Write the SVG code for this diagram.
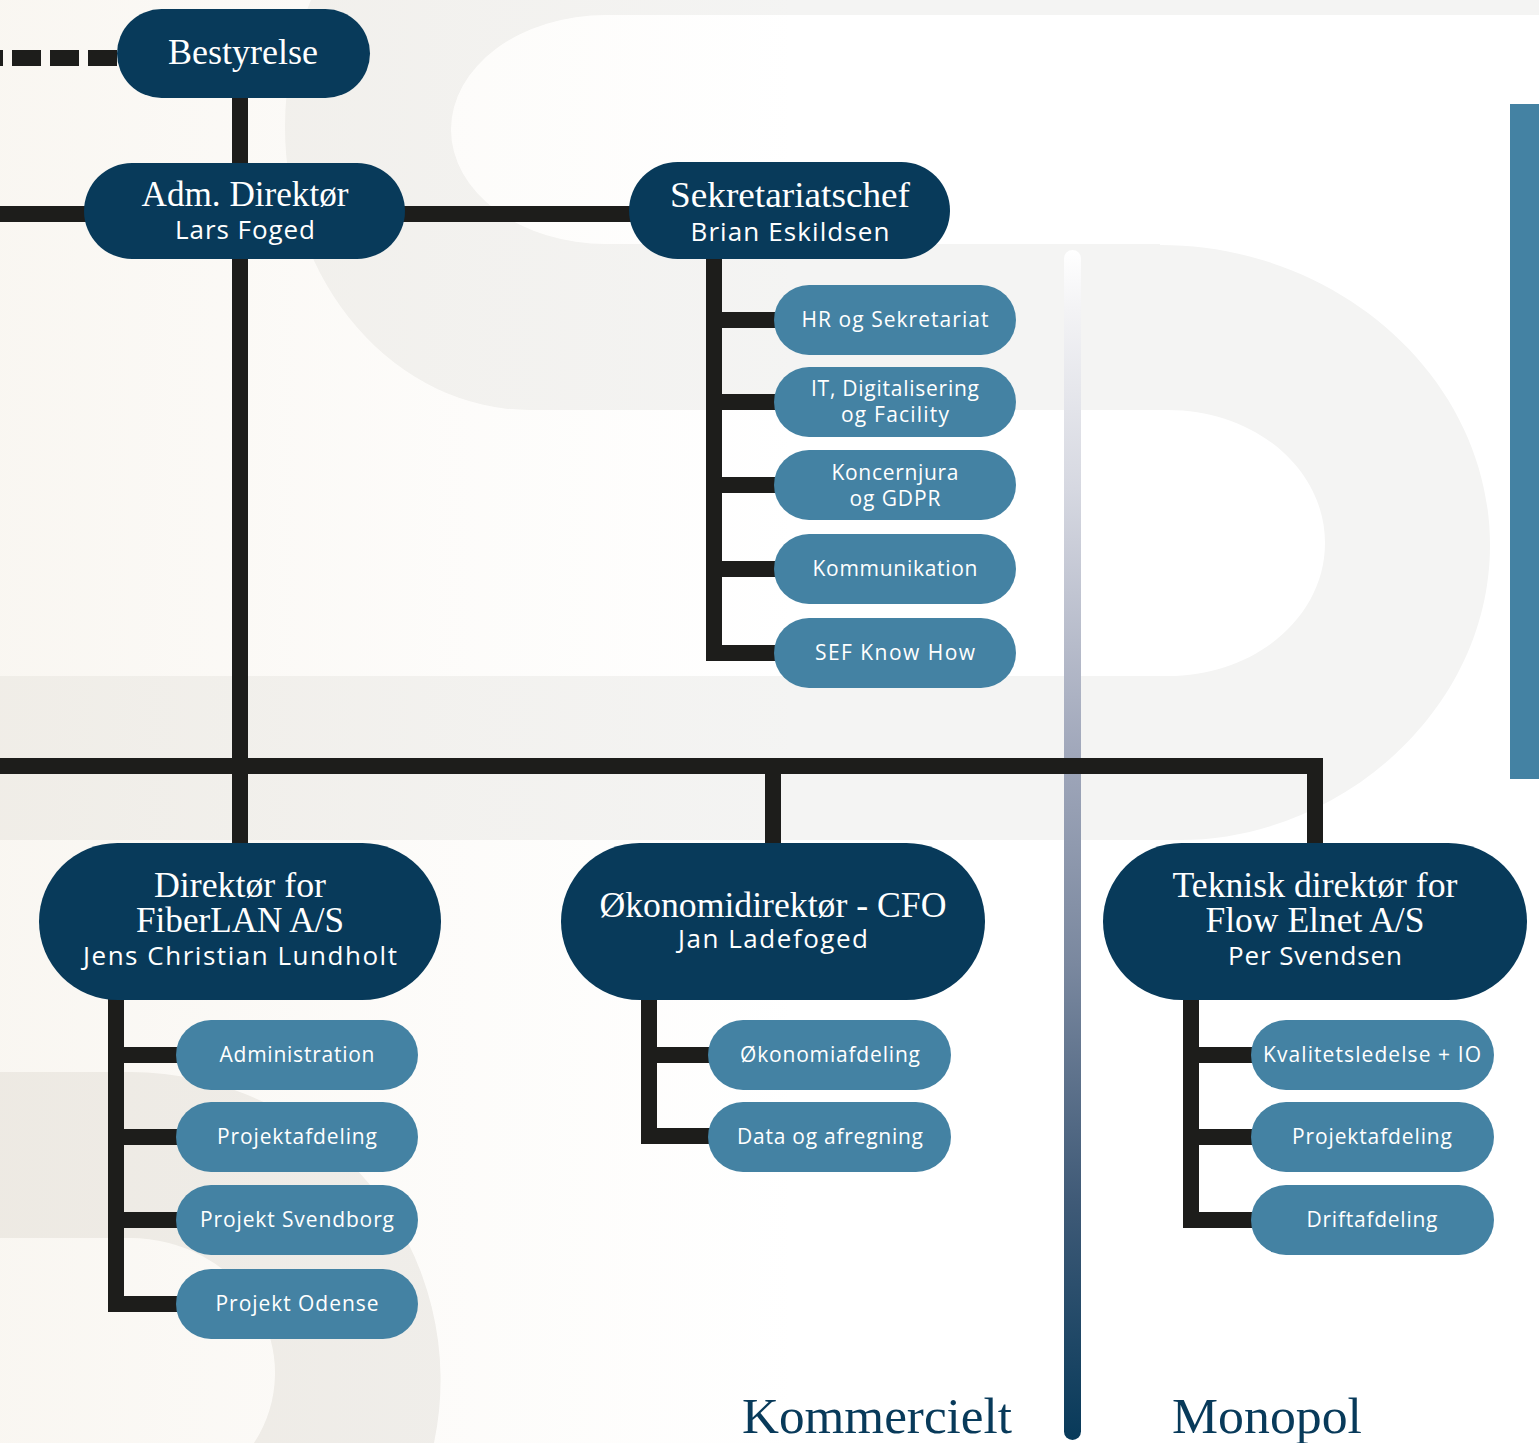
<svg xmlns="http://www.w3.org/2000/svg" width="1539" height="1443" viewBox="0 0 1539 1443">
  <defs>
    <linearGradient id="warm" x1="0" y1="0" x2="800" y2="0" gradientUnits="userSpaceOnUse">
      <stop offset="0" stop-color="#d9c6a5" stop-opacity="0.15"/>
      <stop offset="0.55" stop-color="#d9c6a5" stop-opacity="0.06"/>
      <stop offset="1" stop-color="#d9c6a5" stop-opacity="0"/>
    </linearGradient>
    <linearGradient id="divider" x1="0" y1="250" x2="0" y2="1440" gradientUnits="userSpaceOnUse">
      <stop offset="0" stop-color="#ffffff"/>
      <stop offset="0.05" stop-color="#f3f3f5"/>
      <stop offset="0.2" stop-color="#d6d8e1"/>
      <stop offset="0.42" stop-color="#a1a8bb"/>
      <stop offset="0.6" stop-color="#7a889f"/>
      <stop offset="0.8" stop-color="#3f5a77"/>
      <stop offset="1" stop-color="#083a5a"/>
    </linearGradient>
    <style>
      .ln { stroke: #1d1d1b; stroke-width: 16; fill: none; stroke-linejoin: miter; stroke-linecap: butt; }
      .dark { fill: #083a5a; }
      .light { fill: #4482a3; }
      .serif { font-family: "Liberation Serif", "DejaVu Serif", serif; fill: #ffffff; text-anchor: middle; }
      .sans { font-family: "Open Sans", "Noto Sans", "Liberation Sans", sans-serif; fill: #ffffff; text-anchor: middle; }
      .t36 { font-size: 36px; }
      .t35 { font-size: 35px; }
      .n25 { font-size: 26px; }
      .s20 { font-size: 21px; }
      .label { font-family: "Liberation Serif", "DejaVu Serif", serif; font-size: 51px; fill: #083a5a; text-anchor: middle; }
    </style>
  </defs>

  <!-- background -->
  <g id="background">
    <rect x="0" y="0" width="1539" height="1443" fill="#ffffff"/>
    <path d="M311,0 H1539 V245 H1160 C1340,245 1490,380 1490,545 C1490,710 1340,840 1180,840 H0 V676 H1168 C1255,676 1325,617 1325,543 C1325,469 1255,410 1168,410 H530 A245,283 0 0 1 285,127 A245,283 0 0 1 311,0 Z" fill="#f4f4f3"/>
    <path d="M606,15 H1539 V245 H1160 V244 H606 A155,114.5 0 0 1 606,15 Z" fill="#ffffff"/>
    <path d="M0,1072 H130 A311,308 0 0 1 434,1443 H254 A145,135 0 0 0 130,1238 H0 Z" fill="#f1f0ee"/>
    <rect x="0" y="0" width="1539" height="1443" fill="url(#warm)"/>
    <rect x="1510" y="104" width="29" height="675" fill="#4482a3"/>
    <rect x="1064" y="250" width="17" height="1190" rx="8.5" fill="url(#divider)"/>
  </g>

  <!-- connectors -->
  <g id="connectors">
    <line x1="117" y1="58" x2="0" y2="58" class="ln" stroke-width="17" stroke-dasharray="29 9"/>
    <line x1="240" y1="95" x2="240" y2="166" class="ln"/>
    <line x1="0" y1="214" x2="90" y2="214" class="ln"/>
    <line x1="400" y1="214" x2="635" y2="214" class="ln"/>
    <line x1="240" y1="255" x2="240" y2="846" class="ln"/>
    <path d="M0,766 H1315 V846" class="ln" stroke-width="17"/>
    <line x1="773" y1="766" x2="773" y2="846" class="ln"/>
    <path d="M714,255 V653 H780" class="ln"/>
    <path d="M714,320 H780 M714,402 H780 M714,485 H780 M714,569 H780" class="ln"/>
    <path d="M116,995 V1304 H182" class="ln"/>
    <path d="M116,1055 H182 M116,1137 H182 M116,1220 H182" class="ln"/>
    <path d="M649,995 V1136 H715" class="ln"/>
    <path d="M649,1055 H715" class="ln"/>
    <path d="M1191,995 V1220 H1257" class="ln"/>
    <path d="M1191,1055 H1257 M1191,1137 H1257" class="ln"/>
  </g>

  <!-- top level -->
  <g id="bestyrelse">
    <rect x="117" y="9" width="253" height="89" rx="44.5" class="dark"/>
    <text x="243" y="64" class="serif t36" textLength="150" lengthAdjust="spacingAndGlyphs">Bestyrelse</text>
  </g>
  <g id="adm-direktor">
    <rect x="84" y="163" width="321" height="96" rx="48" class="dark"/>
    <text x="245" y="206" class="serif t36" textLength="207" lengthAdjust="spacingAndGlyphs">Adm. Direktør</text>
    <text x="245" y="239" class="sans n25" textLength="140" lengthAdjust="spacing">Lars Foged</text>
  </g>
  <g id="sekretariatschef">
    <rect x="629" y="162" width="321" height="97" rx="48.5" class="dark"/>
    <text x="790" y="207" class="serif t36" textLength="240" lengthAdjust="spacingAndGlyphs">Sekretariatschef</text>
    <text x="790" y="241" class="sans n25" textLength="199" lengthAdjust="spacing">Brian Eskildsen</text>
  </g>

  <!-- sekretariat units -->
  <g id="hr">
    <rect x="774" y="285" width="242" height="70" rx="35" class="light"/>
    <text x="895" y="327" class="sans s20" textLength="187" lengthAdjust="spacing">HR og Sekretariat</text>
  </g>
  <g id="it">
    <rect x="774" y="367" width="242" height="70" rx="35" class="light"/>
    <text x="895" y="396" class="sans s20" textLength="168" lengthAdjust="spacing">IT, Digitalisering</text>
    <text x="895" y="422" class="sans s20" textLength="108" lengthAdjust="spacing">og Facility</text>
  </g>
  <g id="koncernjura">
    <rect x="774" y="450" width="242" height="70" rx="35" class="light"/>
    <text x="895" y="480" class="sans s20" textLength="127" lengthAdjust="spacing">Koncernjura</text>
    <text x="895" y="506" class="sans s20" textLength="91" lengthAdjust="spacing">og GDPR</text>
  </g>
  <g id="kommunikation">
    <rect x="774" y="534" width="242" height="70" rx="35" class="light"/>
    <text x="895" y="576" class="sans s20" textLength="165" lengthAdjust="spacing">Kommunikation</text>
  </g>
  <g id="sef">
    <rect x="774" y="618" width="242" height="70" rx="35" class="light"/>
    <text x="895" y="660" class="sans s20" textLength="160" lengthAdjust="spacing">SEF Know How</text>
  </g>

  <!-- second level -->
  <g id="fiberlan">
    <rect x="39" y="843" width="402" height="157" rx="78.5" class="dark"/>
    <text x="240" y="897" class="serif t35" textLength="172" lengthAdjust="spacingAndGlyphs">Direktør for</text>
    <text x="240" y="932" class="serif t35" textLength="208" lengthAdjust="spacingAndGlyphs">FiberLAN A/S</text>
    <text x="240" y="965" class="sans n25" textLength="314" lengthAdjust="spacing">Jens Christian Lundholt</text>
  </g>
  <g id="cfo">
    <rect x="561" y="843" width="424" height="157" rx="78.5" class="dark"/>
    <text x="773" y="917" class="serif t35" textLength="347" lengthAdjust="spacingAndGlyphs">Økonomidirektør - CFO</text>
    <text x="773" y="948" class="sans n25" textLength="190" lengthAdjust="spacing">Jan Ladefoged</text>
  </g>
  <g id="teknisk">
    <rect x="1103" y="843" width="424" height="157" rx="78.5" class="dark"/>
    <text x="1315" y="897" class="serif t35" textLength="285" lengthAdjust="spacingAndGlyphs">Teknisk direktør for</text>
    <text x="1315" y="932" class="serif t35" textLength="219" lengthAdjust="spacingAndGlyphs">Flow Elnet A/S</text>
    <text x="1315" y="965" class="sans n25" textLength="174" lengthAdjust="spacing">Per Svendsen</text>
  </g>

  <!-- FiberLAN units -->
  <g id="administration">
    <rect x="176" y="1020" width="242" height="70" rx="35" class="light"/>
    <text x="297" y="1062" class="sans s20" textLength="155" lengthAdjust="spacing">Administration</text>
  </g>
  <g id="projektafdeling-fl">
    <rect x="176" y="1102" width="242" height="70" rx="35" class="light"/>
    <text x="297" y="1144" class="sans s20" textLength="160" lengthAdjust="spacing">Projektafdeling</text>
  </g>
  <g id="projekt-svendborg">
    <rect x="176" y="1185" width="242" height="70" rx="35" class="light"/>
    <text x="297" y="1227" class="sans s20" textLength="194" lengthAdjust="spacing">Projekt Svendborg</text>
  </g>
  <g id="projekt-odense">
    <rect x="176" y="1269" width="242" height="70" rx="35" class="light"/>
    <text x="297" y="1311" class="sans s20" textLength="163" lengthAdjust="spacing">Projekt Odense</text>
  </g>

  <!-- CFO units -->
  <g id="okonomiafdeling">
    <rect x="708" y="1020" width="243" height="70" rx="35" class="light"/>
    <text x="830" y="1062" class="sans s20" textLength="180" lengthAdjust="spacing">Økonomiafdeling</text>
  </g>
  <g id="data-afregning">
    <rect x="708" y="1102" width="243" height="70" rx="35" class="light"/>
    <text x="830" y="1144" class="sans s20" textLength="186" lengthAdjust="spacing">Data og afregning</text>
  </g>

  <!-- Teknisk units -->
  <g id="kvalitet">
    <rect x="1251" y="1020" width="243" height="70" rx="35" class="light"/>
    <text x="1372" y="1062" class="sans s20" textLength="218" lengthAdjust="spacing">Kvalitetsledelse + IO</text>
  </g>
  <g id="projektafdeling-fe">
    <rect x="1251" y="1102" width="243" height="70" rx="35" class="light"/>
    <text x="1372" y="1144" class="sans s20" textLength="160" lengthAdjust="spacing">Projektafdeling</text>
  </g>
  <g id="driftafdeling">
    <rect x="1251" y="1185" width="243" height="70" rx="35" class="light"/>
    <text x="1372" y="1227" class="sans s20" textLength="131" lengthAdjust="spacing">Driftafdeling</text>
  </g>

  <!-- section labels -->
  <g id="labels">
    <text x="877" y="1433" class="label" textLength="270" lengthAdjust="spacingAndGlyphs">Kommercielt</text>
    <text x="1267" y="1433" class="label" textLength="190" lengthAdjust="spacingAndGlyphs">Monopol</text>
  </g>
</svg>
